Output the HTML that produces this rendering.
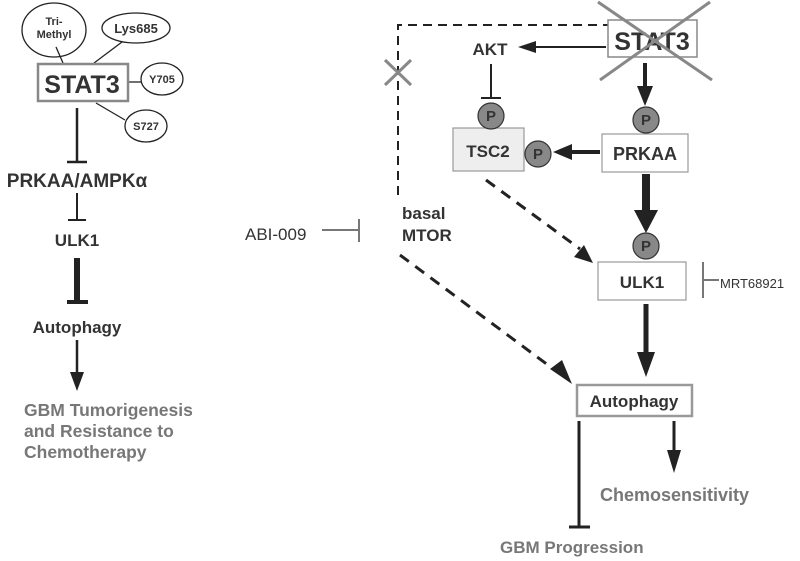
<!DOCTYPE html>
<html><head><style>
html,body{margin:0;padding:0;background:#fff;}
svg{display:block;font-family:"Liberation Sans",Arial,sans-serif;}
</style></head><body>
<svg width="800" height="561" viewBox="0 0 800 561" xmlns="http://www.w3.org/2000/svg">
<!-- LEFT -->
<g stroke="#222" stroke-width="1.3" fill="#fff">
<ellipse cx="54" cy="30" rx="32" ry="27"/>
<ellipse cx="136" cy="28" rx="34" ry="15"/>
<ellipse cx="162" cy="79" rx="21" ry="16"/>
<ellipse cx="146" cy="126" rx="21" ry="16"/>
<line x1="56" y1="47" x2="63" y2="63"/>
<line x1="122" y1="42" x2="94" y2="63"/>
<line x1="128" y1="82" x2="141" y2="82"/>
<line x1="96" y1="103" x2="125" y2="120"/>
</g>
<rect x="38" y="64" width="90" height="37" fill="#fff" stroke="#888" stroke-width="2.5"/>
<g font-weight="bold" fill="#333" text-anchor="middle">
<text x="54" y="25" font-size="11">Tri-</text>
<text x="54" y="38" font-size="11">Methyl</text>
<text x="136" y="33" font-size="13">Lys685</text>
<text x="162" y="83" font-size="11">Y705</text>
<text x="146" y="130" font-size="11">S727</text>
<text x="82" y="93" font-size="25">STAT3</text>
<text x="77" y="187" font-size="19">PRKAA/AMPKα</text>
<text x="77" y="246" font-size="17">ULK1</text>
<text x="77" y="333" font-size="17">Autophagy</text>
</g>
<g font-weight="bold" fill="#777" font-size="17.5">
<text x="24" y="416">GBM Tumorigenesis</text>
<text x="24" y="437">and Resistance to</text>
<text x="24" y="458">Chemotherapy</text>
</g>
<g stroke="#222">
<line x1="77" y1="108" x2="77" y2="162" stroke-width="2.5"/>
<line x1="67" y1="162" x2="87" y2="162" stroke-width="2.5"/>
<line x1="77" y1="193" x2="77" y2="220" stroke-width="2"/>
<line x1="68" y1="220" x2="86" y2="220" stroke-width="2"/>
<line x1="77" y1="258" x2="77" y2="301" stroke-width="6"/>
<line x1="67" y1="302" x2="88" y2="302" stroke-width="4"/>
<line x1="77" y1="340" x2="77" y2="374" stroke-width="2.5"/>
</g>
<g fill="#222">
<path d="M70,372 L84,372 L77,391 z"/>
</g>
<!-- RIGHT -->
<g stroke="#222" stroke-width="2" fill="none" stroke-dasharray="9,6">
<polyline points="398,195 398,25 608,25"/>
</g>
<g stroke="#222" stroke-width="3" fill="none" stroke-dasharray="11,8">
<line x1="486" y1="180" x2="580" y2="249"/>
<line x1="400" y1="255" x2="556" y2="371"/>
</g>
<path d="M574,257 L593,263 L584,245 z" fill="#222"/>
<path d="M550,369 L572,384 L562,360 z" fill="#222"/>
<g stroke="#888" stroke-width="3">
<line x1="385" y1="60" x2="411" y2="85"/><line x1="411" y1="60" x2="385" y2="85"/>
</g>
<rect x="608" y="20" width="89" height="37" fill="#fff" stroke="#888" stroke-width="1.5"/>
<text x="652" y="50" font-size="25" font-weight="bold" fill="#333" text-anchor="middle">STAT3</text>
<g stroke="#888" stroke-width="3"><line x1="600" y1="80" x2="710" y2="2"/><line x1="598" y1="2" x2="712" y2="80"/></g>
<g font-weight="bold" fill="#333">
<text x="490" y="55" font-size="17" text-anchor="middle">AKT</text>
<text x="402" y="219" font-size="17">basal</text>
<text x="402" y="241" font-size="17">MTOR</text>
</g>
<text x="245" y="240" font-size="17" fill="#333">ABI-009</text>
<text x="720" y="288" font-size="13" fill="#333">MRT68921</text>
<g stroke="#777" stroke-width="2">
<line x1="322" y1="230" x2="358" y2="230"/><line x1="359" y1="219" x2="359" y2="242"/>
<line x1="703" y1="262" x2="703" y2="298"/><line x1="703" y1="280" x2="719" y2="280"/>
</g>
<g stroke="#222">
<line x1="606" y1="47" x2="530" y2="47" stroke-width="2"/>
<line x1="491" y1="64" x2="491" y2="98" stroke-width="2"/>
<line x1="481" y1="98" x2="501" y2="98" stroke-width="2"/>
<line x1="645" y1="63" x2="645" y2="90" stroke-width="4"/>
<line x1="600" y1="152" x2="568" y2="152" stroke-width="4"/>
<line x1="646" y1="174" x2="646" y2="214" stroke-width="8"/>
<line x1="646" y1="304" x2="646" y2="356" stroke-width="5"/>
<line x1="579" y1="421" x2="579" y2="526" stroke-width="3"/>
<line x1="569" y1="527" x2="590" y2="527" stroke-width="3"/>
<line x1="674" y1="421" x2="674" y2="452" stroke-width="3"/>
</g>
<g fill="#222">
<path d="M536,41 L536,53 L518,47 z"/>
<path d="M637,86 L653,86 L645,106 z"/>
<path d="M572,144 L572,160 L553,152 z"/>
<path d="M634,210 L658,210 L646,233 z"/>
<path d="M637,352 L655,352 L646,377 z"/>
<path d="M667,450 L681,450 L674,473 z"/>
</g>
<rect x="453" y="128" width="71" height="43" fill="#eee" stroke="#999" stroke-width="1.2"/>
<rect x="602" y="134" width="86" height="38" fill="#fff" stroke="#999" stroke-width="1.2"/>
<rect x="598" y="262" width="88" height="38" fill="#fff" stroke="#999" stroke-width="1.2"/>
<rect x="577" y="385" width="115" height="31" fill="#fff" stroke="#999" stroke-width="2.5"/>
<g font-weight="bold" fill="#333" text-anchor="middle">
<text x="488" y="157" font-size="17">TSC2</text>
<text x="645" y="160" font-size="18">PRKAA</text>
<text x="642" y="288" font-size="17">ULK1</text>
<text x="634" y="407" font-size="17">Autophagy</text>
</g>
<g fill="#888" stroke="#333" stroke-width="1.2">
<circle cx="491" cy="116" r="13"/><circle cx="538" cy="154" r="13"/>
<circle cx="646" cy="120" r="13"/><circle cx="646" cy="246" r="13"/>
</g>
<g font-weight="bold" fill="#333" font-size="15" text-anchor="middle">
<text x="491" y="121">P</text><text x="538" y="159">P</text>
<text x="646" y="125">P</text><text x="646" y="251">P</text>
</g>
<g font-weight="bold" fill="#777" font-size="18">
<text x="600" y="501">Chemosensitivity</text>
<text x="500" y="553" font-size="17">GBM Progression</text>
</g>
</svg>
</body></html>
